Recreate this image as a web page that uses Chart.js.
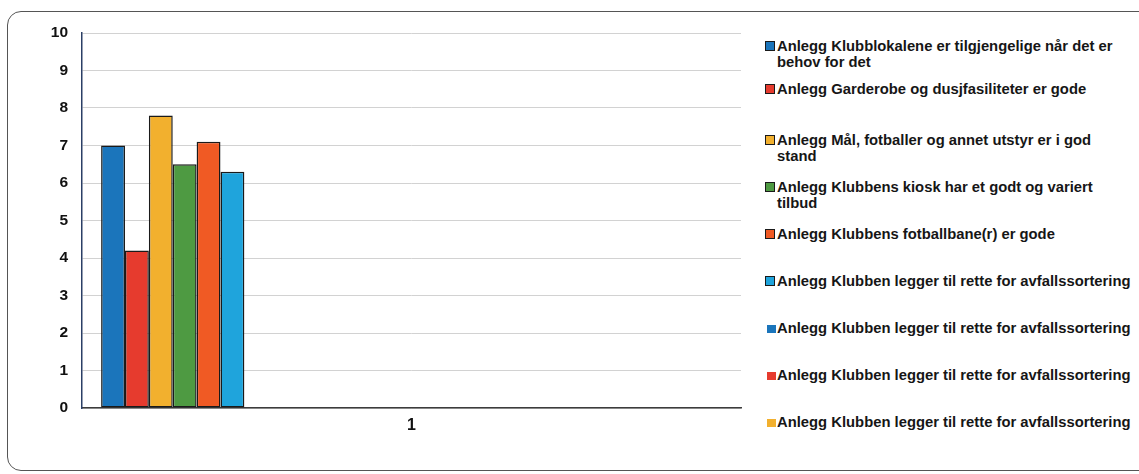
<!DOCTYPE html>
<html lang="no">
<head>
    <meta charset="UTF-8">
    <title>Anlegg</title>
    <script src="https://cdn.jsdelivr.net/npm/chart.js"></script>
    <style>
        html, body {
            margin: 0;
            padding: 0;
            background: #fff;
        }
        body {
            font-family: 'Liberation Sans', Arial, sans-serif;
            color: #111;
        }
        .page {
            position: relative;
            width: 1139px;
            height: 474px;
            overflow: hidden;
        }
        .frame {
            position: absolute;
            left: 7px;
            top: 11px;
            width: 1150px;
            height: 458px;
            border: 1.5px solid #555;
            border-radius: 14px;
        }
        .chart-box {
            position: absolute;
            left: 0;
            top: 0;
            width: 750px;
            height: 474px;
        }
        .legend-item {
            position: absolute;
            left: 765px;
            font-size: 14.8px;
            font-weight: bold;
            line-height: 16.5px;
            white-space: nowrap;
            color: #161616;
        }
        .legend-item .box {
            position: absolute;
            left: 0;
            top: 3.5px;
            width: 10px;
            height: 10px;
            box-sizing: border-box;
            border: 1.5px solid #1a1a1a;
        }
        .legend-item .box.plain {
            border: none;
            width: 9px;
            height: 8px;
            top: 5px;
            left: 2px;
        }
        .legend-item .text {
            padding-left: 12px;
        }
    </style>
</head>
<body>
    <div class="page">
        <div class="frame"></div>
        <div class="chart-box"><canvas id="anleggChart"></canvas></div>
        <div id="legend"></div>
    </div>
    <script>
        // data
        const categories = ['1'];
        const seriesNames = [
            ['Anlegg Klubblokalene er tilgjengelige når det er', 'behov for det'],
            ['Anlegg Garderobe og dusjfasiliteter er gode'],
            ['Anlegg Mål, fotballer og annet utstyr er i god', 'stand'],
            ['Anlegg Klubbens kiosk har et godt og variert', 'tilbud'],
            ['Anlegg Klubbens fotballbane(r) er gode'],
            ['Anlegg Klubben legger til rette for avfallssortering'],
            ['Anlegg Klubben legger til rette for avfallssortering'],
            ['Anlegg Klubben legger til rette for avfallssortering'],
            ['Anlegg Klubben legger til rette for avfallssortering']
        ];
        const seriesValues = [7.0, 4.2, 7.8, 6.5, 7.1, 6.3, null, null, null];
        const seriesColors = ['#1b75bb', '#e63b2e', '#f2b02e', '#4e9a42', '#f05a24', '#1fa4dc', '#1b75bb', '#e63b2e', '#f2b02e'];
        const yTicks = [0, 1, 2, 3, 4, 5, 6, 7, 8, 9, 10];

        // the original chart kept empty slots after the named series, so bars sit at the left
        const emptySlots = 17;

        const datasets = seriesNames.map((name, i) => ({
            label: name.join(' '),
            data: [seriesValues[i]],
            backgroundColor: seriesColors[i],
            borderColor: '#1a1a1a',
            borderWidth: 1.5,
            borderSkipped: false
        }));
        for (let i = 0; i < emptySlots; i++) {
            datasets.push({ label: '', data: [null], backgroundColor: 'transparent' });
        }

        new Chart(document.getElementById('anleggChart'), {
            type: 'bar',
            data: { labels: categories, datasets: datasets },
            options: {
                responsive: true,
                maintainAspectRatio: false,
                animation: false,
                categoryPercentage: 0.942,
                barPercentage: 1,
                layout: { padding: { top: 33, right: 9, left: 0, bottom: 0 } },
                plugins: {
                    legend: { display: false },
                    tooltip: { enabled: false }
                },
                scales: {
                    x: {
                        grid: { display: false, drawTicks: false },
                        border: { display: true, color: '#3c3c3c', width: 1.5 },
                        ticks: {
                            padding: 8,
                            color: '#111',
                            font: { family: 'Liberation Sans', size: 16, weight: 'bold' }
                        },
                        afterFit: scale => { scale.height = 66; }
                    },
                    y: {
                        min: 0,
                        max: 10,
                        afterBuildTicks: scale => { scale.ticks = yTicks.map(v => ({ value: v })); },
                        grid: { color: '#d2d2d2', lineWidth: 1, drawTicks: false },
                        border: { display: true, color: '#2b3f66', width: 1.5 },
                        ticks: {
                            padding: 14,
                            color: '#111',
                            font: { family: 'Liberation Sans', size: 15.5, weight: 'bold' }
                        },
                        afterFit: scale => { scale.width = 82; }
                    }
                }
            }
        });

        // legend, laid out like the original Excel legend
        const legendBaselines = [51, 94, 145, 192, 239, 286, 333, 380, 427];
        const legend = document.getElementById('legend');
        seriesNames.forEach((name, i) => {
            const item = document.createElement('div');
            item.className = 'legend-item';
            item.style.top = (legendBaselines[i] - 13.4) + 'px';
            const box = document.createElement('span');
            box.className = i < 6 ? 'box' : 'box plain';
            box.style.background = seriesColors[i];
            const text = document.createElement('div');
            text.className = 'text';
            text.innerHTML = name.join('<br>');
            item.appendChild(box);
            item.appendChild(text);
            legend.appendChild(item);
        });
    </script>
</body>
</html>
